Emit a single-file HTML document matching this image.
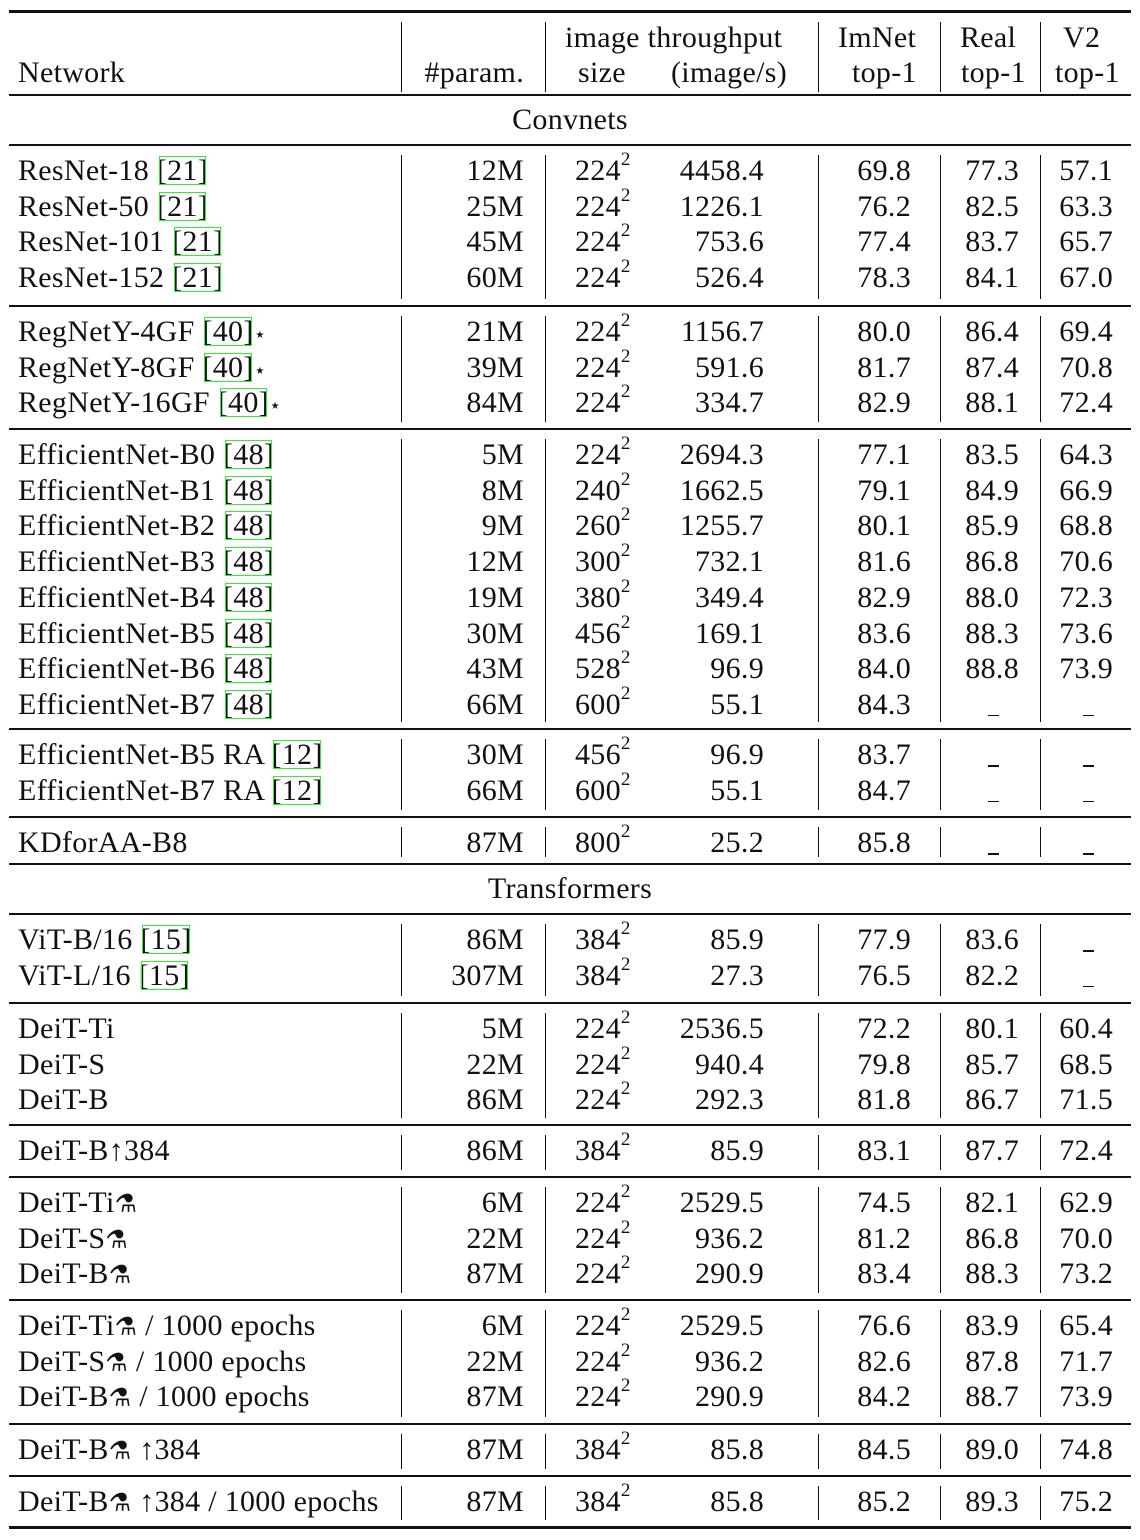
<!DOCTYPE html>
<html><head><meta charset="utf-8">
<style>
body{margin:0;background:#fff;}
#t{position:relative;width:1140px;height:1540px;overflow:hidden;font-family:"Liberation Serif","DejaVu Serif",serif;font-size:30px;letter-spacing:0.3px;color:#111;}
.c{position:absolute;line-height:34px;white-space:nowrap;}
.r{text-align:right;}
.h{position:absolute;left:9px;width:1122px;background:#111;}
.v{position:absolute;width:1.3px;background:#111;}
.cite{outline:1.5px solid #33ee33;outline-offset:-3px;padding:0;}
sup{font-size:19px;position:relative;top:-4px;vertical-align:top;line-height:19px;}
.dash{display:inline-block;width:11px;height:1.5px;background:#111;vertical-align:-4px;}
.sym{font-family:"DejaVu Sans",sans-serif;font-size:25px;font-weight:bold;}
</style></head><body>
<div id="t"></div>
<script>
const groups=[
 {title:"Convnets",rows:[
 ["ResNet-18","21","","12M","224","4458.4","69.8","77.3","57.1"],
 ["ResNet-50","21","","25M","224","1226.1","76.2","82.5","63.3"],
 ["ResNet-101","21","","45M","224","753.6","77.4","83.7","65.7"],
 ["ResNet-152","21","","60M","224","526.4","78.3","84.1","67.0"]]},
 {rows:[
 ["RegNetY-4GF","40","star","21M","224","1156.7","80.0","86.4","69.4"],
 ["RegNetY-8GF","40","star","39M","224","591.6","81.7","87.4","70.8"],
 ["RegNetY-16GF","40","star","84M","224","334.7","82.9","88.1","72.4"]]},
 {rows:[
 ["EfficientNet-B0","48","","5M","224","2694.3","77.1","83.5","64.3"],
 ["EfficientNet-B1","48","","8M","240","1662.5","79.1","84.9","66.9"],
 ["EfficientNet-B2","48","","9M","260","1255.7","80.1","85.9","68.8"],
 ["EfficientNet-B3","48","","12M","300","732.1","81.6","86.8","70.6"],
 ["EfficientNet-B4","48","","19M","380","349.4","82.9","88.0","72.3"],
 ["EfficientNet-B5","48","","30M","456","169.1","83.6","88.3","73.6"],
 ["EfficientNet-B6","48","","43M","528","96.9","84.0","88.8","73.9"],
 ["EfficientNet-B7","48","","66M","600","55.1","84.3","-","-"]]},
 {rows:[
 ["EfficientNet-B5 RA","12","","30M","456","96.9","83.7","-","-"],
 ["EfficientNet-B7 RA","12","","66M","600","55.1","84.7","-","-"]]},
 {rows:[["KDforAA-B8","","","87M","800","25.2","85.8","-","-"]]},
 {title:"Transformers",rows:[
 ["ViT-B/16","15","","86M","384","85.9","77.9","83.6","-"],
 ["ViT-L/16","15","","307M","384","27.3","76.5","82.2","-"]]},
 {rows:[
 ["DeiT-Ti","","","5M","224","2536.5","72.2","80.1","60.4"],
 ["DeiT-S","","","22M","224","940.4","79.8","85.7","68.5"],
 ["DeiT-B","","","86M","224","292.3","81.8","86.7","71.5"]]},
 {rows:[["DeiT-B↑384","","","86M","384","85.9","83.1","87.7","72.4"]]},
 {rows:[
 ["DeiT-Ti","","alem","6M","224","2529.5","74.5","82.1","62.9"],
 ["DeiT-S","","alem","22M","224","936.2","81.2","86.8","70.0"],
 ["DeiT-B","","alem","87M","224","290.9","83.4","88.3","73.2"]]},
 {rows:[
 ["DeiT-Ti","","alem / 1000 epochs","6M","224","2529.5","76.6","83.9","65.4"],
 ["DeiT-S","","alem / 1000 epochs","22M","224","936.2","82.6","87.8","71.7"],
 ["DeiT-B","","alem / 1000 epochs","87M","224","290.9","84.2","88.7","73.9"]]},
 {rows:[["DeiT-B","","alem ↑384","87M","384","85.8","84.5","89.0","74.8"]]},
 {rows:[["DeiT-B","","alem ↑384 / 1000 epochs","87M","384","85.8","85.2","89.3","75.2"]]}
];
// layout: bottom rule y of each group
const ruleY=[306,429,729,817,864,1003,1125,1177,1300,1424,1476,1527];
const T=document.getElementById('t');
const VX=[401,545,818,940,1040];
function hr(y,h){const d=document.createElement('div');d.className='h';d.style.top=(y-h/2)+'px';d.style.height=h+'px';


T.appendChild(d);}
function vl(y0,y1){VX.forEach(x=>{const d=document.createElement('div');d.className='v';d.style.left=x+'px';d.style.top=y0+'px';d.style.height=(y1-y0)+'px';


T.appendChild(d);});}
function cell(html,cy,x,right,name){const d=document.createElement('div');d.className='c'+(right?' r':'');d.style.top=(cy-17)+'px';
if(right){d.style.right=(1140-x)+'px';}else{d.style.left=x+'px';}
d.innerHTML=html;


T.appendChild(d);}
function dash(cx,cy,name){const d=document.createElement('div');d.style.cssText='position:absolute;width:11px;height:1.5px;background:#111;left:'+(cx-5)+'px;top:'+(cy+10)+'px';


T.appendChild(d);}
hr(11.5,3);
vl(22,92);
cell('Network',73,18,false,'header-network');
cell('#param.',73,524,true,'header-params');
cell('image throughput',38,565,false,'header-image-throughput');
cell('size',73,578,false,'header-size');
cell('(image/s)',73,787,true,'header-throughput');
cell('ImNet',38,838,false,'header-imnet');
cell('top-1',73,852,false,'header-imnet-top1');
cell('Real',38,960,false,'header-real');
cell('top-1',73,961,false,'header-real-top1');
cell('V2',38,1063,false,'header-v2');
cell('top-1',73,1055,false,'header-v2-top1');
hr(95,2.5);
const step=35.7;
let y=95;
groups.forEach((g,gi)=>{
 if(g.title){cell(g.title,y+25,0,false,'section-'+g.title.toLowerCase());
   T.lastChild.style.width='1140px';T.lastChild.style.textAlign='center';
   y+=50;hr(y,2.5);}
 const top=y;
 let cy=y+26;
 g.rows.forEach((r)=>{
  let suf=r[2];let s='';
  if(suf==='star')s='<span style="font-size:20px">⋆</span>';
  else if(suf.startsWith('alem'))s='<span class="sym">⚗</span>'+suf.slice(4);
  let nm=r[0]+(r[1]?' <span class="cite">['+r[1]+']</span>':'')+s;
  cell(nm,cy,18,false,'network-name');
  cell(r[3],cy,524,true,'params');
  cell(r[4]+'<sup>2</sup>',cy,575,false,'image-size');
  cell(r[5],cy,764,true,'throughput');
  cell(r[6],cy,911,true,'imnet-top1');
  if(r[7]==='-')dash(993,cy,'real-top1-missing');else cell(r[7],cy,1019,true,'real-top1');
  if(r[8]==='-')dash(1088,cy,'v2-top1-missing');else cell(r[8],cy,1113,true,'v2-top1');
  cy+=step;
 });
 const bottom=ruleY[gi];
 vl(top+10,bottom-7);
 y=bottom;
 if(gi===groups.length-1){hr(y,3);}
 else if(gi===4){hr(y,2.5);}
 else hr(y,1.6);
});
</script>
</body></html>
